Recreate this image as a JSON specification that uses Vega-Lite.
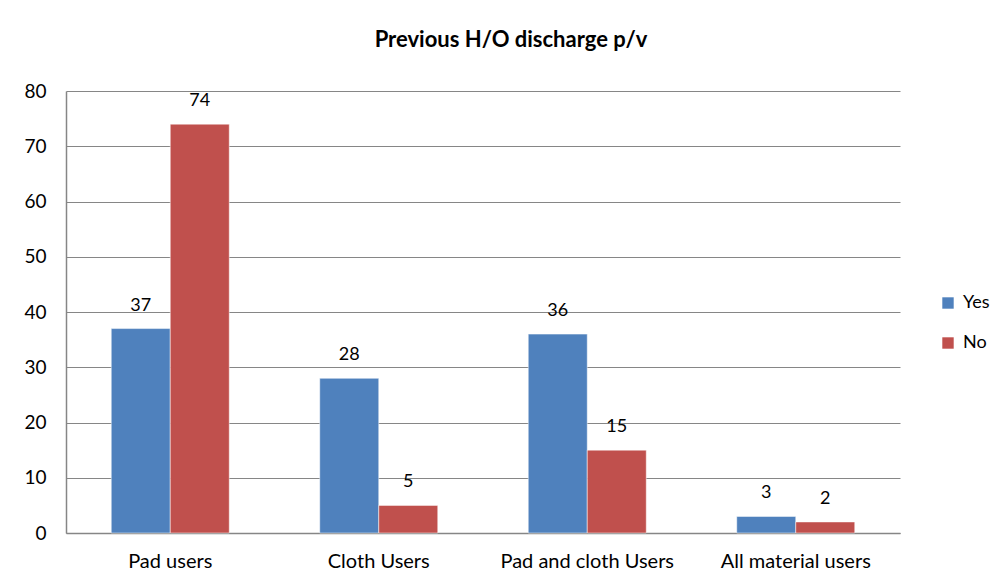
{
  "$schema": "https://vega.github.io/schema/vega-lite/v6.json",
  "autosize": "none",
  "width": 834,
  "height": 442,
  "padding": {"left": 66, "top": 91, "right": 104, "bottom": 55},
  "background": "white",
  "title": {
    "text": "Previous H/O discharge p/v",
    "anchor": "middle",
    "frame": "group",
    "font": "Lato",
    "fontSize": 22,
    "fontWeight": "bold",
    "color": "#000000",
    "offset": 30,
    "dx": 28
  },
  "data": {
    "values": [
      {"group": "Pad users", "answer": "Yes", "count": 37},
      {"group": "Pad users", "answer": "No", "count": 74},
      {"group": "Cloth Users", "answer": "Yes", "count": 28},
      {"group": "Cloth Users", "answer": "No", "count": 5},
      {"group": "Pad and cloth Users", "answer": "Yes", "count": 36},
      {"group": "Pad and cloth Users", "answer": "No", "count": 15},
      {"group": "All material users", "answer": "Yes", "count": 3},
      {"group": "All material users", "answer": "No", "count": 2}
    ]
  },
  "encoding": {
    "x": {
      "field": "group",
      "type": "nominal",
      "sort": ["Pad users", "Cloth Users", "Pad and cloth Users", "All material users"],
      "scale": {"paddingInner": 0.434, "paddingOuter": 0.217},
      "axis": {
        "title": null,
        "labelAngle": 0,
        "labelFont": "Lato",
        "labelFontSize": 20,
        "labelColor": "#000000",
        "labelPadding": 18,
        "ticks": false,
        "domainColor": "#868686",
        "domainWidth": 1.5
      }
    },
    "xOffset": {
      "field": "answer",
      "type": "nominal",
      "sort": ["Yes", "No"],
      "scale": {"paddingInner": 0, "paddingOuter": 0}
    },
    "y": {
      "field": "count",
      "type": "quantitative",
      "scale": {"domain": [0, 80]},
      "axis": {
        "title": null,
        "values": [0, 10, 20, 30, 40, 50, 60, 70, 80],
        "labelFont": "Lato",
        "labelFontSize": 19,
        "labelColor": "#000000",
        "labelPadding": 20,
        "ticks": false,
        "domainColor": "#868686",
        "domainWidth": 1.5,
        "gridColor": "#868686",
        "gridWidth": 1
      }
    }
  },
  "layer": [
    {
      "mark": {"type": "bar", "stroke": "white", "strokeWidth": 0.5},
      "encoding": {
        "color": {
          "field": "answer",
          "type": "nominal",
          "sort": ["Yes", "No"],
          "scale": {"domain": ["Yes", "No"], "range": ["#4F81BD", "#C0504D"]},
          "legend": {
            "title": null,
            "orient": "none",
            "legendX": 873,
            "legendY": 203,
            "symbolType": "square",
            "symbolSize": 130,
            "symbolStrokeWidth": 0,
            "labelFont": "Lato",
            "labelFontSize": 18,
            "labelColor": "#000000",
            "rowPadding": 22,
            "labelOffset": 6
          }
        }
      }
    },
    {
      "mark": {"type": "text", "baseline": "bottom", "dy": -14, "font": "Lato", "fontSize": 18, "color": "#000000"},
      "encoding": {
        "text": {"field": "count", "type": "quantitative"}
      }
    }
  ],
  "config": {
    "view": {"stroke": null}
  }
}
